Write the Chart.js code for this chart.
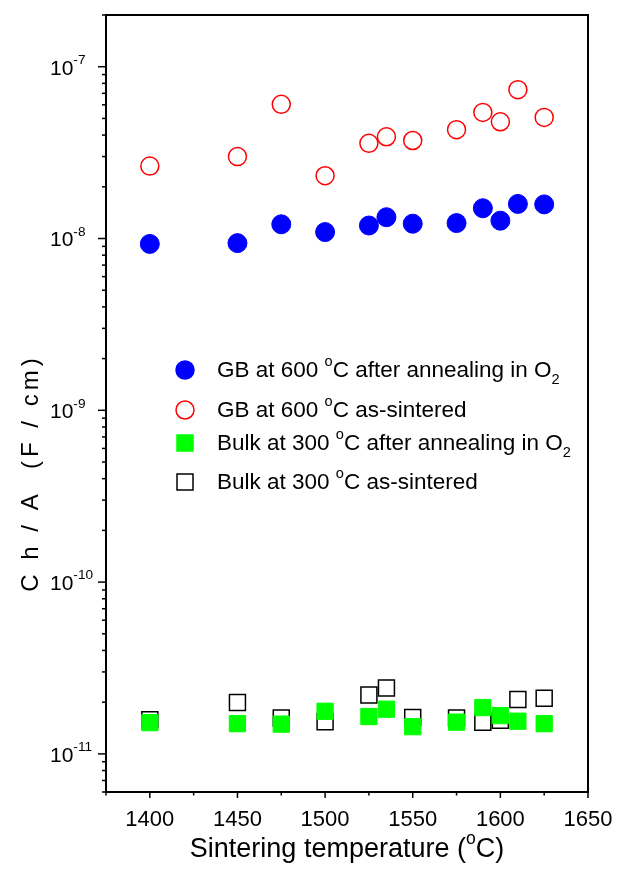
<!DOCTYPE html>
<html>
<head>
<meta charset="utf-8">
<script src="https://cdn.jsdelivr.net/npm/chart.js@4.4.1/dist/chart.umd.min.js"></script>
<style>
  body { margin: 0; background: #fff; }
  canvas { display: block; }
</style>
</head>
<body>
<canvas id="myChart" width="618" height="869"></canvas>
<script>
// Data
var temps = [1400, 1450, 1475, 1500, 1525, 1535, 1550, 1575, 1590, 1600, 1610, 1625];
var gbAnnealed = [9.3e-9, 9.4e-9, 1.21e-8, 1.09e-8, 1.19e-8, 1.33e-8, 1.22e-8, 1.23e-8, 1.5e-8, 1.27e-8, 1.59e-8, 1.58e-8];
var gbSintered = [2.64e-8, 3.0e-8, 6.04e-8, 2.32e-8, 3.58e-8, 3.91e-8, 3.72e-8, 4.3e-8, 5.42e-8, 4.78e-8, 7.35e-8, 5.07e-8];
var bulkAnnealed = [1.52e-11, 1.5e-11, 1.49e-11, 1.77e-11, 1.65e-11, 1.82e-11, 1.44e-11, 1.53e-11, 1.86e-11, 1.67e-11, 1.55e-11, 1.5e-11];
var bulkSintered = [1.58e-11, 1.99e-11, 1.62e-11, 1.54e-11, 2.2e-11, 2.42e-11, 1.63e-11, 1.62e-11, 1.53e-11, 1.57e-11, 2.07e-11, 2.11e-11];
var xTicks = [1400, 1450, 1500, 1550, 1600, 1650];
var yTickExps = [-11, -10, -9, -8, -7];

var font = '"Liberation Sans", Arial, sans-serif';

function pts(vals) {
  return temps.map((t, i) => ({ x: t, y: vals[i] }));
}

// parts: [text, mode] mode 0 normal, 1 superscript, -1 subscript
function richWidth(ctx, parts, size) {
  var w = 0;
  parts.forEach((p) => {
    ctx.font = (p[1] ? size * 0.65 : size) + "px " + font;
    w += ctx.measureText(p[0]).width;
  });
  return w;
}
function richText(ctx, parts, x, y, size) {
  parts.forEach((p) => {
    var fs = p[1] ? size * 0.65 : size;
    ctx.font = fs + "px " + font;
    var dy = p[1] == 1 ? -size * 0.4 : p[1] == -1 ? size * 0.38 : 0;
    ctx.fillText(p[0], x, y + dy);
    x += ctx.measureText(p[0]).width;
  });
  return x;
}

var legendItems = [
  { style: "circle", fill: "#0000ff", stroke: "#0000ff", parts: [["GB at 600 ", 0], ["o", 1], ["C after annealing in O", 0], ["2", -1]] },
  { style: "circle", fill: "#ffffff", stroke: "#ff0000", parts: [["GB at 600 ", 0], ["o", 1], ["C as-sintered", 0]] },
  { style: "rect", fill: "#00ff00", stroke: "#00ff00", parts: [["Bulk at 300 ", 0], ["o", 1], ["C after annealing in O", 0], ["2", -1]] },
  { style: "rect", fill: "#ffffff", stroke: "#000000", parts: [["Bulk at 300 ", 0], ["o", 1], ["C as-sintered", 0]] },
];
var legendRows = [370, 410, 443, 482];

var framePlugin = {
  id: "frame",
  afterDraw(chart) {
    var ctx = chart.ctx;
    var a = chart.chartArea;
    var xs = chart.scales.x;
    var ys = chart.scales.y;
    ctx.save();
    ctx.strokeStyle = "#000";
    ctx.fillStyle = "#000";
    ctx.lineWidth = 2;
    ctx.strokeRect(a.left, a.top, a.right - a.left, a.bottom - a.top);

    // x ticks
    ctx.lineWidth = 1.5;
    for (var t = 1375; t <= 1650; t += 25) {
      var px = xs.getPixelForValue(t);
      var len = t % 50 == 0 ? 6 : 3.5;
      ctx.beginPath();
      ctx.moveTo(px, a.bottom);
      ctx.lineTo(px, a.bottom + len);
      ctx.stroke();
    }
    ctx.font = "22px " + font;
    ctx.textAlign = "center";
    ctx.textBaseline = "middle";
    xTicks.forEach((t) => {
      ctx.fillText(String(t), xs.getPixelForValue(t), 820);
    });

    // y ticks
    for (var e = -12; e <= -7; e++) {
      for (var m = 1; m <= 9; m++) {
        var v = m * Math.pow(10, e);
        if (v < ys.min || v > ys.max) continue;
        var py = ys.getPixelForValue(v);
        var l = m == 1 ? 8 : 4;
        ctx.beginPath();
        ctx.moveTo(a.left, py);
        ctx.lineTo(a.left - l, py);
        ctx.stroke();
      }
    }
    ctx.textAlign = "left";
    yTickExps.forEach((e) => {
      var py = ys.getPixelForValue(Math.pow(10, e));
      richText(ctx, [["10", 0], [String(e), 1]], 50, py + 2, 21);
    });

    // axis titles
    var xt = [["Sintering temperature (", 0], ["o", 1], ["C)", 0]];
    var w = richWidth(ctx, xt, 27);
    richText(ctx, xt, 347 - w / 2, 850, 27);

    ctx.save();
    ctx.translate(31, 473);
    ctx.rotate(-Math.PI / 2);
    ctx.font = "24px " + font;
    ctx.letterSpacing = "4px";
    ctx.textAlign = "center";
    ctx.fillText("C h / A  (F / cm)", 0, 0);
    ctx.restore();

    // legend
    ctx.textAlign = "left";
    legendItems.forEach((it, i) => {
      var y = legendRows[i];
      ctx.fillStyle = it.fill;
      ctx.strokeStyle = it.stroke;
      ctx.lineWidth = 1.5;
      ctx.beginPath();
      if (it.style == "circle") {
        ctx.arc(185, y, 9, 0, Math.PI * 2);
      } else {
        ctx.rect(177, y - 8, 16, 16);
      }
      ctx.fill();
      ctx.stroke();
      ctx.fillStyle = "#000";
      richText(ctx, it.parts, 217, y + 1, 22.5);
    });
    ctx.restore();
  },
};

new Chart("myChart", {
  type: "scatter",
  data: {
    datasets: [
      {
        label: "GB 600 annealed",
        data: pts(gbAnnealed),
        pointStyle: "circle",
        pointRadius: 9.5,
        backgroundColor: "#0000ff",
        borderColor: "#0000ff",
        borderWidth: 1,
      },
      {
        label: "GB 600 as-sintered",
        data: pts(gbSintered),
        pointStyle: "circle",
        pointRadius: 9,
        backgroundColor: "rgba(255,255,255,0)",
        borderColor: "#ff0000",
        borderWidth: 1.5,
      },
      {
        label: "Bulk 300 annealed",
        data: pts(bulkAnnealed),
        pointStyle: "rect",
        pointRadius: 11.5,
        backgroundColor: "#00ff00",
        borderColor: "#00ff00",
        borderWidth: 1,
      },
      {
        label: "Bulk 300 as-sintered",
        data: pts(bulkSintered),
        pointStyle: "rect",
        pointRadius: 11.3,
        backgroundColor: "rgba(255,255,255,0)",
        borderColor: "#000000",
        borderWidth: 1.5,
      },
    ],
  },
  options: {
    responsive: false,
    animation: false,
    layout: { padding: { top: 15, right: 30, left: 0, bottom: 0 } },
    plugins: { legend: { display: false }, tooltip: { enabled: false } },
    scales: {
      x: {
        type: "linear",
        min: 1375,
        max: 1650,
        ticks: { display: false },
        grid: { display: false },
        border: { display: false },
        afterFit: (s) => { s.height = 77; },
      },
      y: {
        type: "logarithmic",
        min: 6e-12,
        max: 2e-7,
        ticks: { display: false },
        grid: { display: false },
        border: { display: false },
        afterFit: (s) => { s.width = 106; },
      },
    },
  },
  plugins: [framePlugin],
});
</script>
</body>
</html>
